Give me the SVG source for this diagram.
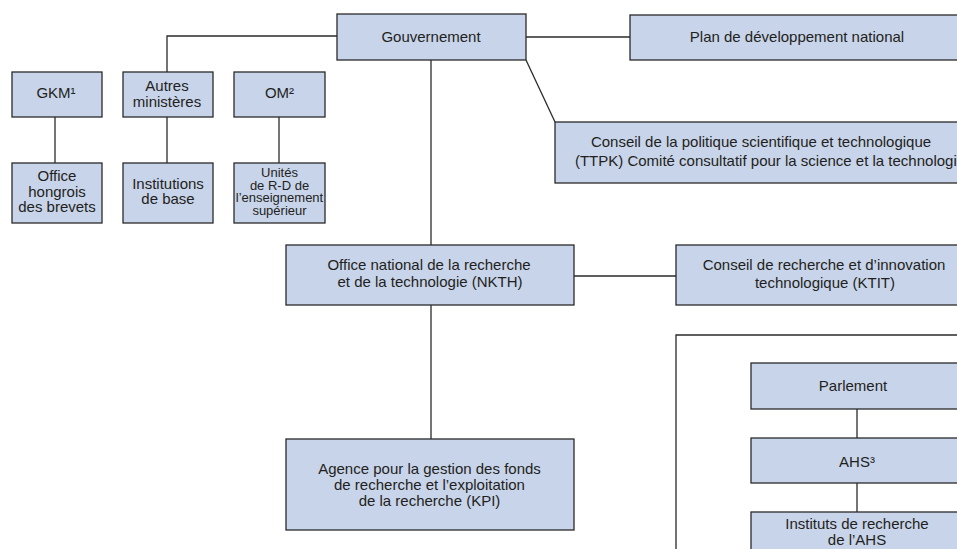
<svg xmlns="http://www.w3.org/2000/svg" width="957" height="549" viewBox="0 0 957 549">
<style>
.box{fill:#c8d4ea;stroke:#2a2a2a;stroke-width:1.3}
.ln{fill:none;stroke:#2a2a2a;stroke-width:1.3}
text{font-family:"Liberation Sans",Arial,sans-serif;font-size:15px;fill:#231f20;text-anchor:middle}
.sm{font-size:13px}
</style>
<rect width="957" height="549" fill="#ffffff"/>
<g id="connectors" class="ln">
<polyline points="167,72 167,36 337,36"/>
<line x1="526" y1="37" x2="630" y2="37"/>
<line x1="526" y1="60" x2="555" y2="122"/>
<line x1="431" y1="60" x2="431" y2="245"/>
<line x1="431" y1="305" x2="431" y2="439"/>
<line x1="574" y1="276" x2="676" y2="276"/>
<line x1="55" y1="117" x2="55" y2="163"/>
<line x1="167" y1="117" x2="167" y2="163"/>
<line x1="279" y1="117" x2="279" y2="163"/>
<line x1="857" y1="409" x2="857" y2="438"/>
<line x1="857" y1="483" x2="857" y2="512"/>
</g>
<g id="container"><polyline class="ln" points="965,335 676,335 676,555"/></g>
<g id="gouvernement"><rect class="box" x="337" y="14" width="189" height="46"/><text x="431" y="42">Gouvernement</text></g>
<g id="plan"><rect class="box" x="630" y="15" width="340" height="45"/><text x="797" y="42">Plan de développement national</text></g>
<g id="ttpk"><rect class="box" x="555" y="122" width="415" height="61"/><text x="761" y="147">Conseil de la politique scientifique et technologique</text><text x="770" y="166">(TTPK) Comité consultatif pour la science et la technologie</text></g>
<g id="gkm"><rect class="box" x="12" y="72" width="90" height="45"/><text x="56" y="98">GKM¹</text></g>
<g id="autres"><rect class="box" x="123" y="72" width="90" height="45"/><text x="167" y="91">Autres</text><text x="167" y="107">ministères</text></g>
<g id="om"><rect class="box" x="234" y="72" width="91" height="45"/><text x="279.5" y="98">OM²</text></g>
<g id="office-brevets"><rect class="box" x="12" y="163" width="90" height="60"/><text x="57" y="181">Office</text><text x="57" y="196.5">hongrois</text><text x="57" y="212">des brevets</text></g>
<g id="institutions"><rect class="box" x="123" y="163" width="90" height="60"/><text x="168" y="189">Institutions</text><text x="168" y="204">de base</text></g>
<g id="unites"><rect class="box" x="234" y="163" width="91" height="60"/><text class="sm" x="279.5" y="177">Unités</text><text class="sm" x="279.5" y="189.5">de R-D de</text><text class="sm" x="279.5" y="202">l’enseignement</text><text class="sm" x="279.5" y="215">supérieur</text></g>
<g id="nkth"><rect class="box" x="286" y="245" width="288" height="60"/><text x="429" y="270">Office national de la recherche</text><text x="430" y="287">et de la technologie (NKTH)</text></g>
<g id="ktit"><rect class="box" x="676" y="245" width="300" height="60"/><text x="824" y="270">Conseil de recherche et d’innovation</text><text x="825" y="288">technologique (KTIT)</text></g>
<g id="kpi"><rect class="box" x="286" y="439" width="288" height="91"/><text x="429.5" y="474">Agence pour la gestion des fonds</text><text x="429.5" y="490">de recherche et l’exploitation</text><text x="429.5" y="506">de la recherche (KPI)</text></g>
<g id="parlement"><rect class="box" x="751" y="363" width="220" height="46"/><text x="853" y="391">Parlement</text></g>
<g id="ahs"><rect class="box" x="751" y="438" width="220" height="45"/><text x="857" y="467">AHS³</text></g>
<g id="instituts"><rect class="box" x="751" y="512" width="220" height="50"/><text x="857" y="529">Instituts de recherche</text><text x="857" y="545">de l’AHS</text></g>
</svg>
